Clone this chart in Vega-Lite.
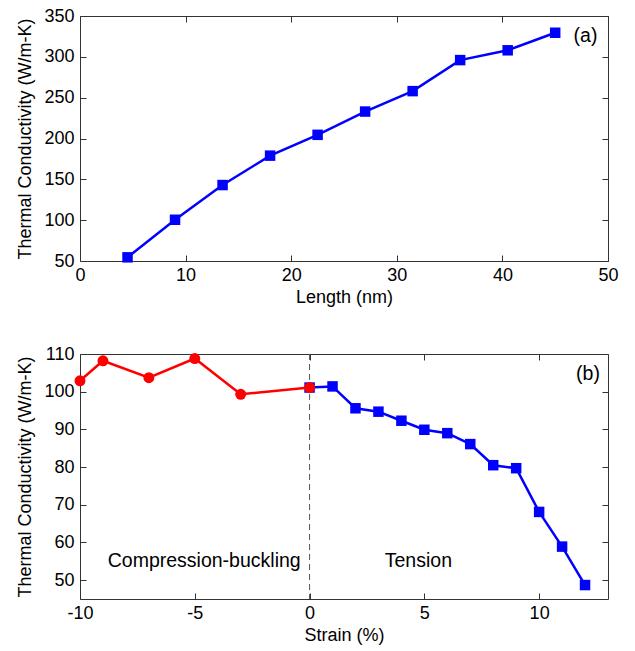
{
  "$schema": "https://vega.github.io/schema/vega-lite/v6.json",
  "background": "white",
  "padding": {"left": 16, "top": 6, "right": 5, "bottom": 5},
  "bounds": "flush",
  "spacing": 93,
  "config": {
    "font": "Liberation Sans",
    "view": {"stroke": "#333333", "strokeWidth": 1},
    "axis": {
      "grid": false,
      "domain": false,
      "tickColor": "#333333",
      "tickSize": 6,
      "offset": -6,
      "labelFlush": false,
      "labelOverlap": false,
      "labelColor": "black",
      "titleColor": "black",
      "labelFontSize": 18,
      "titleFontSize": 18,
      "titleFontWeight": "normal"
    },
    "axisX": {"labelPadding": 5, "titlePadding": 4},
    "axisY": {"labelPadding": 6, "titlePadding": 9}
  },
  "datasets": {
    "lengthData": [
      {"length": 4.5, "k": 54.5},
      {"length": 9, "k": 100.5},
      {"length": 13.5, "k": 143},
      {"length": 18, "k": 179},
      {"length": 22.5, "k": 204.5},
      {"length": 27, "k": 233},
      {"length": 31.5, "k": 258},
      {"length": 36, "k": 296},
      {"length": 40.5, "k": 308},
      {"length": 45, "k": 329.5}
    ],
    "compression": [
      {"strain": -10, "k": 102.9},
      {"strain": -9, "k": 108.2},
      {"strain": -7, "k": 103.7},
      {"strain": -5, "k": 108.8},
      {"strain": -3, "k": 99.3},
      {"strain": 0, "k": 101.1}
    ],
    "tension": [
      {"strain": 0, "k": 101.1},
      {"strain": 1, "k": 101.4},
      {"strain": 2, "k": 95.6},
      {"strain": 3, "k": 94.7},
      {"strain": 4, "k": 92.3},
      {"strain": 5, "k": 89.9},
      {"strain": 6, "k": 89.0},
      {"strain": 7, "k": 86.1},
      {"strain": 8, "k": 80.5},
      {"strain": 9, "k": 79.7},
      {"strain": 10, "k": 68.1},
      {"strain": 11, "k": 58.9},
      {"strain": 12, "k": 48.7}
    ],
    "labelsA": [
      {"strain": 47.87, "k": 325.4, "label": "(a)"}
    ],
    "labelsB": [
      {"strain": 12.13, "k": 104.7, "label": "(b)"},
      {"strain": -4.59, "k": 55.1, "label": "Compression-buckling"},
      {"strain": 4.74, "k": 55.1, "label": "Tension"}
    ],
    "zeroLine": [
      {"strain": 0}
    ]
  },
  "vconcat": [
    {
      "width": 528,
      "height": 245,
      "resolve": {"axis": {"x": "independent", "y": "independent"}},
      "layer": [
        {
          "data": {"name": "lengthData"},
          "mark": {"type": "line", "color": "#0000ff", "strokeWidth": 2.5,
                   "point": {"shape": "square", "filled": true, "size": 110, "color": "#0000ff", "opacity": 1}},
          "encoding": {
            "x": {"field": "length", "type": "quantitative",
                  "scale": {"domain": [0, 50], "nice": false, "zero": false},
                  "axis": {"values": [0, 10, 20, 30, 40, 50], "title": "Length (nm)"}},
            "y": {"field": "k", "type": "quantitative",
                  "scale": {"domain": [50, 350], "nice": false, "zero": false},
                  "axis": {"values": [50, 100, 150, 200, 250, 300, 350], "title": "Thermal Conductivity (W/m-K)"}}
          }
        },
        {
          "data": {"name": "labelsA"},
          "mark": {"type": "text", "fontSize": 19.5, "align": "center", "baseline": "middle", "color": "black"},
          "encoding": {
            "x": {"field": "strain", "type": "quantitative",
                  "axis": {"orient": "top", "values": [0, 10, 20, 30, 40, 50], "labels": false, "title": null}},
            "y": {"field": "k", "type": "quantitative",
                  "axis": {"orient": "right", "values": [50, 100, 150, 200, 250, 300, 350], "labels": false, "title": null}},
            "text": {"field": "label"}
          }
        }
      ]
    },
    {
      "width": 528,
      "height": 245,
      "resolve": {"axis": {"x": "independent", "y": "independent"}},
      "layer": [
        {
          "data": {"name": "zeroLine"},
          "mark": {"type": "rule", "color": "#555555", "strokeWidth": 1, "strokeDash": [6, 4]},
          "encoding": {
            "x": {"field": "strain", "type": "quantitative",
                  "scale": {"domain": [-10, 13], "nice": false, "zero": false},
                  "axis": {"values": [-10, -5, 0, 5, 10], "title": "Strain (%)",
                           "labelExpr": "datum.value < 0 ? '-' + abs(datum.value) : '' + datum.value"}}
          }
        },
        {
          "data": {"name": "tension"},
          "mark": {"type": "line", "color": "#0000ff", "strokeWidth": 2.5,
                   "point": {"shape": "square", "filled": true, "size": 110, "color": "#0000ff", "opacity": 1}},
          "encoding": {
            "x": {"field": "strain", "type": "quantitative", "axis": null},
            "y": {"field": "k", "type": "quantitative",
                  "scale": {"domain": [45, 110], "nice": false, "zero": false},
                  "axis": {"values": [50, 60, 70, 80, 90, 100, 110], "title": "Thermal Conductivity (W/m-K)"}}
          }
        },
        {
          "data": {"name": "compression"},
          "mark": {"type": "line", "color": "#ff0000", "strokeWidth": 2.5,
                   "point": {"shape": "circle", "filled": true, "size": 120, "color": "#ff0000", "opacity": 1}},
          "encoding": {
            "x": {"field": "strain", "type": "quantitative", "axis": null},
            "y": {"field": "k", "type": "quantitative", "axis": null}
          }
        },
        {
          "data": {"name": "labelsB"},
          "mark": {"type": "text", "fontSize": 19.5, "align": "center", "baseline": "middle", "color": "black"},
          "encoding": {
            "x": {"field": "strain", "type": "quantitative",
                  "axis": {"orient": "top", "values": [-10, -5, 0, 5, 10], "labels": false, "title": null}},
            "y": {"field": "k", "type": "quantitative",
                  "axis": {"orient": "right", "values": [50, 60, 70, 80, 90, 100, 110], "labels": false, "title": null}},
            "text": {"field": "label"}
          }
        }
      ]
    }
  ]
}
